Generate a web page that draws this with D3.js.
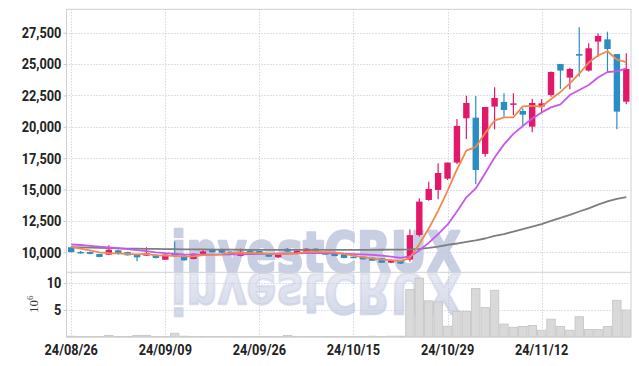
<!DOCTYPE html>
<html><head><meta charset="utf-8">
<script src="https://cdn.jsdelivr.net/npm/d3@7"></script>
<style>body{margin:0;background:#fff}svg{display:block}</style>
</head><body>
<svg id="c" width="639" height="366"></svg>
<script>
const dates = ["2024-08-26","2024-08-27","2024-08-28","2024-08-29","2024-08-30","2024-09-02","2024-09-03","2024-09-04","2024-09-05","2024-09-06",
"2024-09-09","2024-09-10","2024-09-11","2024-09-12","2024-09-13","2024-09-19","2024-09-20","2024-09-23","2024-09-24","2024-09-25",
"2024-09-26","2024-09-27","2024-09-30","2024-10-02","2024-10-04","2024-10-07","2024-10-08","2024-10-10","2024-10-11","2024-10-14",
"2024-10-15","2024-10-16","2024-10-17","2024-10-18","2024-10-21","2024-10-22","2024-10-23","2024-10-24","2024-10-25","2024-10-28",
"2024-10-29","2024-10-30","2024-10-31","2024-11-01","2024-11-04","2024-11-05","2024-11-06","2024-11-07","2024-11-08","2024-11-11",
"2024-11-12","2024-11-13","2024-11-14","2024-11-15","2024-11-18","2024-11-19","2024-11-20","2024-11-21","2024-11-22","2024-11-25"];
const open = [10400,10030,10020,9870,9810,10160,10020,9860,9730,9810,
9410,9950,9730,9470,9870,10260,10180,10050,9710,10130,
10100,9860,9600,10290,9870,10050,10290,10020,9970,9840,
9650,9650,9570,9520,9170,9330,9420,11380,14170,14970,
15870,17150,20680,20730,17840,21610,21980,21770,21260,20010,
21610,22540,25010,23920,25800,24480,26790,26970,25800,22000];
const high = [10450,10110,10060,9880,10560,10220,10050,9880,10400,9830,
9850,10870,9780,9920,10260,10280,10290,10080,10290,10160,
10130,9880,9950,10330,10160,10320,10320,10050,10000,9860,
9680,9680,9600,9550,9420,9360,11820,14300,15630,17090,
17150,20620,22480,22460,21580,23150,22670,22670,21470,22240,
22190,24400,25010,24710,27930,26650,27450,27580,25800,25860];
const low = [10000,9900,9840,9600,9790,9810,9740,9290,9700,9500,
9400,9650,9330,9440,9850,9990,9950,9820,9680,9850,
9880,9620,9550,10030,9850,10030,10020,9780,9680,9520,
9550,9420,9300,9150,9150,9070,9260,11250,14100,14220,
15760,17040,19030,15420,17620,19800,20810,20940,20150,19560,
21080,22400,23020,22990,24000,24400,25590,24400,19800,21790];
const close = [10020,9950,9870,9630,10210,9920,9760,9600,9940,9550,
9820,9680,9360,9890,10080,10000,9970,9840,10050,9870,
9900,9650,9810,10050,10130,10290,10050,9810,9700,9550,
9570,9440,9330,9170,9390,9100,11370,14040,15050,16320,
17150,20070,21900,16560,21580,22300,21340,21870,20970,21900,
21870,24370,24480,24610,25670,26260,27240,26200,21210,24610];
const volume = [0.15,0.1,0.1,0.1,0.3,0.1,0.1,0.3,0.3,0.1,
0.1,0.7,0.15,0.1,0.1,0.1,0.1,0.1,0.1,0.1,
0.1,0.1,0.1,0.3,0.1,0.1,0.1,0.1,0.1,0.1,
0.1,0.1,0.15,0.1,0.15,0.15,8.8,10.9,6.7,6.5,
2.0,4.75,4.75,9.0,5.45,8.65,2.4,1.8,1.95,2.15,
1.25,3.3,1.95,1.25,3.75,1.4,1.4,1.95,6.8,5.0];
const ma5 = [10420,10300,10150,10000,9940,9920,9880,9830,9880,9760,
9740,9720,9680,9670,9770,9800,9860,9950,9980,9950,
9930,9870,9860,9860,9910,10040,10060,10020,9990,9880,
9740,9620,9520,9420,9380,9290,9560,10650,11900,13300,
14900,16600,18100,18400,19500,20500,20760,20760,21630,21670,
21600,22220,22780,23460,24230,25120,25680,26020,25350,25150];
const ma10 = [10620,10580,10520,10460,10400,10330,10250,10170,10090,10000,
9930,9880,9840,9820,9810,9810,9820,9830,9840,9860,
9870,9870,9900,9910,9920,9940,9950,9940,9910,9890,
9860,9840,9800,9730,9660,9560,9670,10150,10750,11450,
12200,13250,14380,15090,16300,17560,18600,19440,20060,20660,
21150,21550,21790,22530,22930,23330,23930,24370,24410,24650];
const ma60 = [10420,10400,10380,10360,10340,10320,10300,10290,10280,10270,
10260,10250,10240,10230,10225,10220,10215,10210,10205,10200,
10200,10200,10200,10200,10200,10200,10200,10200,10200,10200,
10200,10200,10200,10205,10210,10215,10230,10270,10350,10450,
10600,10700,10830,10950,11100,11300,11450,11650,11850,12050,
12250,12500,12750,12980,13250,13500,13800,14050,14250,14400];
const yTicks = [10000,12500,15000,17500,20000,22500,25000,27500];
const volTicks = [5,10];
const xTickDates = ["2024-08-26","2024-09-09","2024-09-26","2024-10-15","2024-10-29","2024-11-12"];
const xTickLabels = ["24/08/26","24/09/09","24/09/26","24/10/15","24/10/29","24/11/12"];

const L=66.5,R=631,T=9.3,SEP=272.3,B=337;
const svg=d3.select("#c");
const x=d3.scaleBand().domain(dates).range([L,R]).padding(0);
const y=d3.scaleLinear().domain([10000,27500]).range([252.3,32.7]);
const yv=d3.scaleLinear().domain([0,10]).range([B,283]);
const cx=d=>x(d)+x.bandwidth()/2;
const UP="#e2196b",DOWN="#2b8dc5";
const gridC="#bcc3da";

// watermark
const defs=svg.append("defs");
const grad=defs.append("linearGradient").attr("id","rg").attr("x1",0).attr("y1",0).attr("x2",0).attr("y2",1);
grad.append("stop").attr("offset","0%").attr("stop-color","#ccd2e5").attr("stop-opacity",0.95);
grad.append("stop").attr("offset","100%").attr("stop-color","#ccd2e5").attr("stop-opacity",0.35);
const wm=svg.append("g");
const wmStyle=s=>s.attr("x",171).attr("y",271).attr("textLength",290).attr("lengthAdjust","spacingAndGlyphs")
 .style("font-family","DejaVu Sans").style("font-weight","bold").style("font-size","56px").attr("stroke-width",2.4).attr("stroke-linejoin","round");
wm.append("text").call(wmStyle).attr("fill","#c9cfe3").attr("stroke","#c9cfe3").text("investCRUX");
wm.append("text").call(wmStyle).attr("transform","translate(0,545) scale(1,-1)")
 .attr("fill","url(#rg)").attr("stroke","url(#rg)").text("investCRUX");

// grid
const grid=svg.append("g").attr("stroke",gridC).attr("stroke-dasharray","1,2").attr("stroke-width",1);
grid.selectAll(".hy").data(yTicks).join("line").attr("x1",L).attr("x2",R).attr("y1",d=>Math.round(y(d))+0.5).attr("y2",d=>Math.round(y(d))+0.5);
grid.selectAll(".hv").data(volTicks).join("line").attr("x1",L).attr("x2",R).attr("y1",d=>Math.round(yv(d))+0.5).attr("y2",d=>Math.round(yv(d))+0.5);
grid.selectAll(".vx").data(xTickDates).join("line").attr("x1",d=>Math.round(cx(d))+0.5).attr("x2",d=>Math.round(cx(d))+0.5).attr("y1",T).attr("y2",B);

// volume
const rows=dates.map((d,i)=>({d,o:open[i],h:high[i],l:low[i],c:close[i],v:volume[i]}));
svg.append("g").selectAll("rect").data(rows).join("rect")
 .attr("x",r=>x(r.d)+0.5).attr("width",x.bandwidth()-1)
 .attr("y",r=>yv(r.v)).attr("height",r=>B-yv(r.v))
 .attr("fill","#d9d9d9").attr("stroke","#c3c3c3").attr("stroke-width",0.8);

// candles
const cg=svg.append("g");
cg.selectAll("line").data(rows).join("line")
 .attr("x1",r=>cx(r.d)).attr("x2",r=>cx(r.d)).attr("y1",r=>y(r.h)).attr("y2",r=>y(r.l))
 .attr("stroke",r=>r.c>=r.o?UP:DOWN).attr("stroke-width",1.2);
cg.selectAll("rect").data(rows).join("rect")
 .attr("x",r=>cx(r.d)-3.2).attr("width",6.4)
 .attr("y",r=>y(Math.max(r.o,r.c))).attr("height",r=>Math.max(1.5,Math.abs(y(r.o)-y(r.c))))
 .attr("fill",r=>r.c>=r.o?UP:DOWN);

// moving averages
const line=d3.line().x((v,i)=>cx(dates[i])).y(v=>y(v));
[[ma60,"#7d7d7d"],[ma10,"#c957ee"],[ma5,"#ef8a4c"]].forEach(([arr,col])=>{
 svg.append("path").datum(arr).attr("d",line).attr("fill","none").attr("stroke",col).attr("stroke-width",1.8).attr("stroke-linejoin","round");
});

// frame
const fr=svg.append("g").attr("stroke","#d0d0d0").attr("stroke-width",1).attr("fill","none");
fr.append("rect").attr("x",L).attr("y",T).attr("width",R-L).attr("height",B-T);
fr.append("line").attr("x1",L).attr("x2",R).attr("y1",SEP).attr("y2",SEP);

// axes
const txt=sel=>sel.selectAll("text").style("font-family","Roboto").style("font-weight","700").style("font-size","15px").attr("fill","#222").attr("transform","scale(0.85,1)");
const ay=svg.append("g").attr("transform",`translate(${L},0)`)
 .call(d3.axisLeft(y).tickValues(yTicks).tickFormat(d3.format(",")).tickSize(3).tickPadding(3));
ay.select(".domain").remove(); ay.selectAll("line").attr("stroke","#cccccc");
txt(ay);
const av=svg.append("g").attr("transform",`translate(${L},0)`)
 .call(d3.axisLeft(yv).tickValues(volTicks).tickSize(3).tickPadding(3));
av.select(".domain").remove(); av.selectAll("line").attr("stroke","#cccccc");
txt(av);
const ax=svg.append("g").attr("transform",`translate(0,${B})`)
 .call(d3.axisBottom(x).tickValues(xTickDates).tickFormat((d,i)=>xTickLabels[i]).tickSize(0).tickPadding(7));
ax.select(".domain").remove();
txt(ax);

// 10^6 label
const ul=svg.append("text").attr("transform","translate(38,313) rotate(-90)")
 .style("font-family","Liberation Serif").style("font-size","13px").attr("fill","#333");
ul.append("tspan").text("10");
ul.append("tspan").attr("dy",-5).style("font-size","9px").text("6");
</script>
</body></html>
